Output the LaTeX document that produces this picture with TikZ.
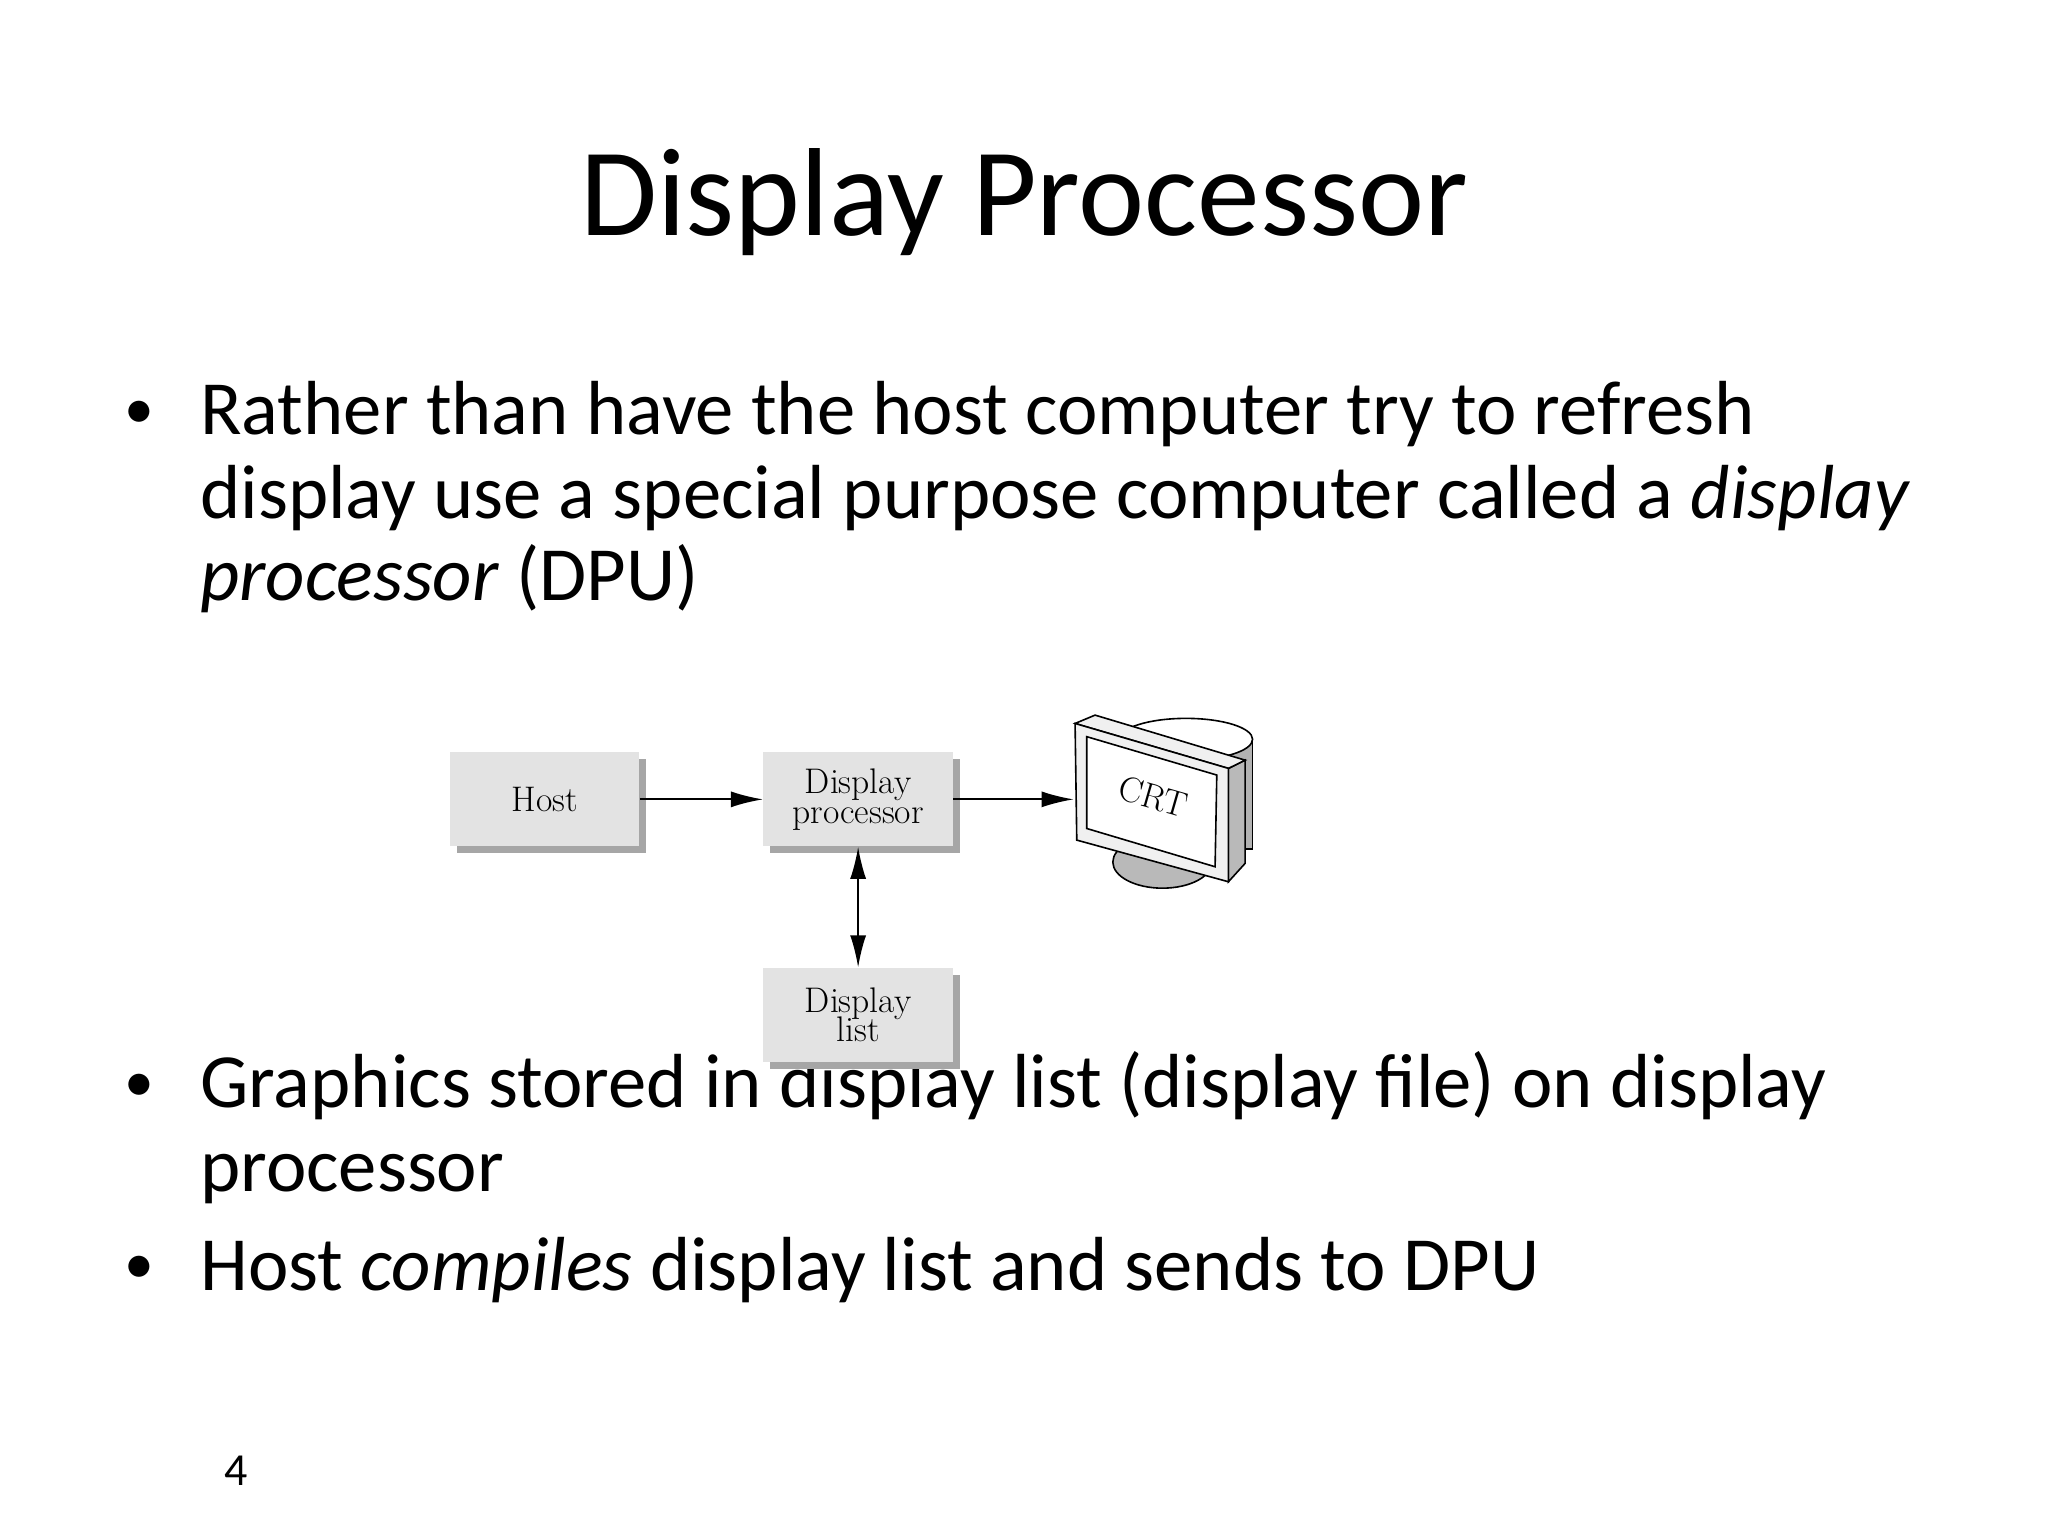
\documentclass[tikz,border=0pt]{standalone}
\usepackage{fontspec}
\setmainfont{Carlito}
\newfontfamily\diafont{Latin Modern Roman}
\usetikzlibrary{arrows.meta,shadows}
\tikzset{
 body/.style={anchor=base west,inner sep=0pt,font=\fontsize{33.4}{36}\selectfont},
 bul/.style={anchor=base west,inner sep=0pt,font=\fontsize{26}{30}\selectfont},
 blk/.style={draw=none,fill=gray!22,minimum width=145*0.02cm,minimum height=72*0.02cm,align=center,inner sep=0pt,
   font=\diafont\fontsize{15.5}{16}\selectfont,
   drop shadow={shadow xshift=3pt,shadow yshift=-3pt,fill=gray!70,opacity=1}},
 arr/.style={line width=0.8pt,-{Latex[length=14pt,width=7pt]}},
 darr/.style={line width=0.8pt,{Latex[length=14pt,width=7pt]}-{Latex[length=14pt,width=7pt]}},
}
\begin{document}
\begin{tikzpicture}[x=0.02cm,y=-0.02cm]
\useasboundingbox (0,0) rectangle (1568,1176);
\node[anchor=base,inner sep=0pt,font=\fontsize{54.6}{60}\selectfont] (title) at (784,180) {Display Processor};
\node[bul] (b1) at (95,328) {•};
\node[body] (l1) at (153,333) {Rather than have the host computer try to refresh};
\node[body] (l2) at (153,397) {display use a special purpose computer called a \textit{display}};
\node[body] (l3) at (153,460) {\textit{processor} (DPU)};
\node[bul] (b2) at (95,843) {•};
\node[body] (l4) at (153,848) {Graphics stored in display list (display file) on display};
\node[body] (l5) at (153,912) {processor};
\node[bul] (b3) at (95,983) {•};
\node[body] (l6) at (153,988) {Host \textit{compiles} display list and sends to DPU};
\node[anchor=base,inner sep=0pt,font=\fontsize{20}{24}\selectfont] (pg) at (181,1137) {4};
% CRT
\begin{scope}[line width=0.7pt]
\fill[gray!55,draw=black] (890,660) ellipse (38 and 20);
\draw[fill=gray!60] (918,566) -- (959,566) -- (959,650) -- (918,650);
\draw[fill=white] (908,566) ellipse (51 and 16);
\draw[fill=gray!55] (940.5,588.3) -- (953.3,582) -- (953.3,661) -- (940.5,675.1) -- cycle;
\draw[fill=gray!12] (823.1,553.9) -- (838.4,547.5) -- (953.3,582) -- (940.5,588.3) -- cycle;
\draw[fill=gray!12] (823.1,553.9) -- (940.5,588.3) -- (940.5,675.1) -- (824.4,643.2) -- cycle;
\draw[fill=white] (832,564) -- (931.6,593.4) -- (930.3,663.6) -- (832,634.3) -- cycle;
\end{scope}
\node[font=\diafont\fontsize{15.5}{16}\selectfont,rotate=-16] (crt) at (883,610) {CRT};
% blocks
\node[blk] (host) at (417,612) {Host};
\node[blk] (dp) at (657,612) {Display\\[-3pt]processor};
\node[blk] (dl) at (657,777) {Display\\[-3pt]list};
\coordinate (crtin) at (822,612);
\draw[arr] (host.east) -- (dp.west);
\draw[arr] (dp.east) -- (crtin);
\draw[darr] (dp.south) -- (dl.north);
\end{tikzpicture}
\end{document}
